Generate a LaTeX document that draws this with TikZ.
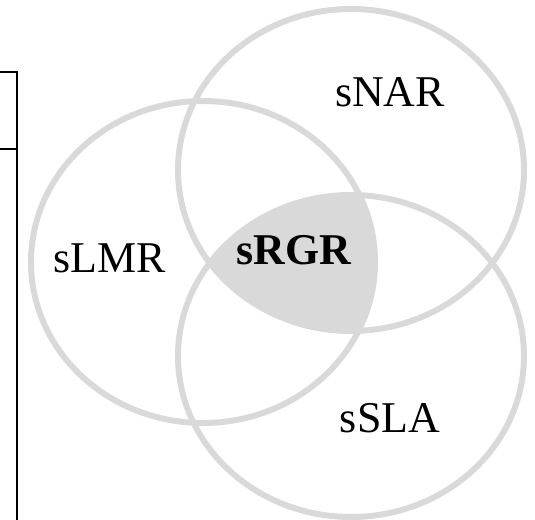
\documentclass[tikz,border=0pt]{standalone}
\usepackage{fontspec}
\setmainfont{Liberation Serif}
\usepackage{tikz}
\definecolor{venngray}{HTML}{D9D9D9}

\begin{document}
\begin{tikzpicture}[x=0.02cm, y=-0.02cm,
    ring/.style={draw=venngray, line width=3.4pt},
    setname/.style={anchor=base, font=\fontsize{25}{29}\selectfont}]
  \useasboundingbox (0, 0) rectangle (535, 520);
  \coordinate (nar) at (351, 170);
  \coordinate (sla) at (351, 356);
  \coordinate (lmr) at (203, 262);
  % common part of the three sets
  \begin{scope}
    \clip (nar) ellipse [x radius=173, y radius=161];
    \clip (sla) ellipse [x radius=173, y radius=161];
    \fill[venngray] (lmr) ellipse [x radius=172, y radius=161];
  \end{scope}
  \draw[ring] (nar) ellipse [x radius=173, y radius=161];
  \draw[ring] (sla) ellipse [x radius=173, y radius=161];
  \draw[ring] (lmr) ellipse [x radius=172, y radius=161];
  \node[setname] (tnar) at (390, 107) {sNAR};
  \node[setname] (tlmr) at (110, 273) {sLMR};
  \node[setname, font=\fontsize{25}{29}\selectfont\bfseries] (trgr) at (294, 265) {sRGR};
  \node[setname] (tsla) at (390, 433) {sSLA};
  % edge of the frame on the left
  \draw[line width=0.85pt] (0, 72) -- (17, 72) -- (17, 520);
  \draw[line width=0.85pt] (0, 149) -- (17, 149);
\end{tikzpicture}
\end{document}
